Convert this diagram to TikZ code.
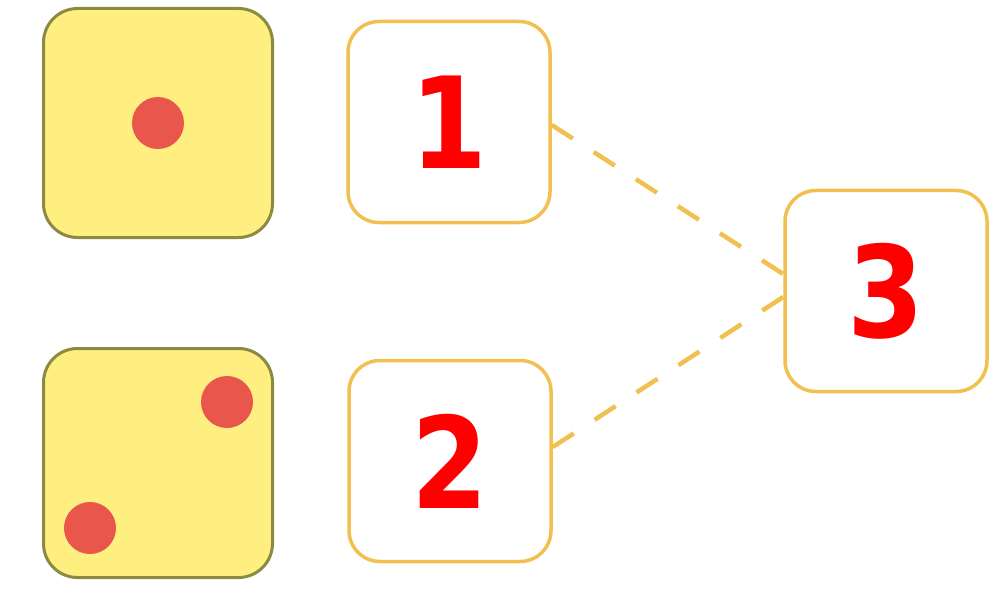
\documentclass[tikz,border=0pt]{standalone}
\usepackage{fontspec}
\setmainfont[FakeStretch=0.87]{DejaVu Sans}
\usetikzlibrary{positioning}
\definecolor{dieyellow}{RGB}{255,238,128}
\definecolor{dieedge}{RGB}{140,138,64}
\definecolor{pipred}{RGB}{232,86,76}
\definecolor{boxedge}{RGB}{242,192,80}
\definecolor{numred}{RGB}{255,0,0}

\begin{document}
\begin{tikzpicture}[x=1pt,y=-1pt,
	die/.style={rectangle,rounded corners=34pt,draw=dieedge,fill=dieyellow,line width=3pt,minimum width=229pt,minimum height=229pt,inner sep=0pt},
	pip/.style={circle,fill=pipred,minimum size=52pt,inner sep=0pt},
	numbox/.style={rectangle,rounded corners=31pt,draw=boxedge,fill=white,line width=3.5pt,minimum width=202pt,minimum height=201pt,inner sep=0pt,font=\fontsize{127}{127}\selectfont\bfseries,text=numred},
	link/.style={draw=boxedge,line width=4.5pt,dash pattern=on 25pt off 25pt},
	]
	\useasboundingbox[fill=white] (0,0) rectangle (1002,599);
	% dice
	\node (die1) [die] at (158,123) {};
	\node (die2) [die] at (158,463) {};
	\node (pip1) [pip] at (158,123) {};
	\node (pip2) [pip] at (227,402) {};
	\node (pip3) [pip] at (90,528) {};
	% numbers
	\node (one) [numbox] at (449,122) {1};
	\node (two) [numbox] at (450,461) {2};
	\node (three) [numbox] at (886,291) {3};
	% links
	\draw[link] ([yshift=-3pt]one.east) -- ([yshift=17pt]three.west);
	\draw[link] ([yshift=14pt]two.east) -- ([yshift=-6pt]three.west);
\end{tikzpicture}
\end{document}
